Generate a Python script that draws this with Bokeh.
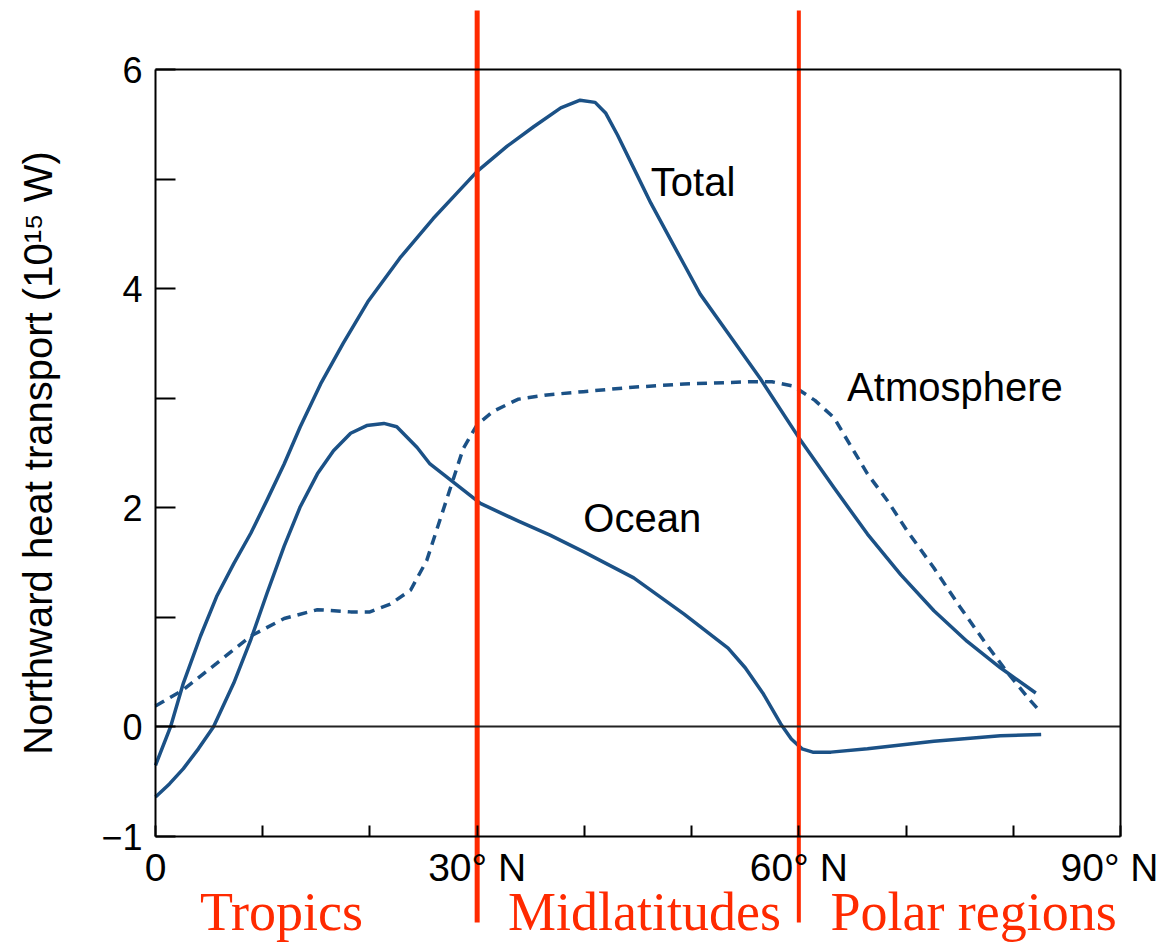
from bokeh.plotting import figure
from bokeh.models import Range1d, FixedTicker, Label, LinearAxis
from bokeh.embed import file_html
from bokeh.resources import INLINE

# ---- data (latitude in degrees N, northward transport in 10^15 W) ----
total_lat = [0, 1.4, 2.6, 4.2, 5.7, 7.3, 8.9, 10.4, 12.0, 13.5, 15.4, 17.5, 19.8, 22.8,
             25.9, 28.0, 30.0, 32.8, 35.3, 37.8, 39.6, 41.0, 42.0, 43.1, 44.6, 46.2,
             47.8, 49.3, 50.8, 53.5, 56.4, 60.0, 63.3, 66.4, 69.5, 72.6, 75.7, 78.8, 82.1]
total_val = [-0.35, 0.0, 0.40, 0.83, 1.19, 1.49, 1.77, 2.07, 2.40, 2.74, 3.13, 3.50, 3.88, 4.28,
             4.64, 4.86, 5.07, 5.30, 5.48, 5.65, 5.72, 5.70, 5.60, 5.40, 5.10, 4.78,
             4.49, 4.22, 3.95, 3.58, 3.18, 2.64, 2.18, 1.76, 1.39, 1.06, 0.78, 0.54, 0.31]

ocean_lat = [0, 1.3, 2.6, 4.0, 5.4, 7.3, 8.9, 10.4, 12.0, 13.5, 15.1, 16.6, 18.2, 19.7,
             21.3, 22.5, 24.4, 25.6, 28.1, 30.3, 33.8, 36.8, 39.9, 44.6, 49.3, 53.4,
             55.0, 56.7, 58.3, 59.3, 60.3, 61.3, 63.0, 66.4, 72.6, 78.8, 82.6]
ocean_val = [-0.64, -0.52, -0.38, -0.20, 0.0, 0.40, 0.80, 1.22, 1.65, 2.01, 2.31, 2.52, 2.68, 2.75,
             2.77, 2.74, 2.55, 2.40, 2.21, 2.04, 1.88, 1.75, 1.60, 1.36, 1.03, 0.72,
             0.54, 0.30, 0.03, -0.11, -0.20, -0.23, -0.23, -0.20, -0.13, -0.08, -0.07]

atmos_lat = [0, 2.6, 5.7, 8.9, 12.0, 15.1, 18.2, 20.0, 21.9, 23.8, 25.3, 26.6, 27.8, 28.7,
             30.0, 31.5, 33.8, 36.5, 39.9, 44.5, 49.3, 55.5, 57.5, 59.5, 61.5, 63.3,
             64.2, 66.4, 68.3, 70.1, 72.6, 75.0, 77.3, 79.5, 81.6, 82.6]
atmos_val = [0.19, 0.34, 0.58, 0.83, 0.99, 1.07, 1.05, 1.05, 1.12, 1.25, 1.52, 1.91, 2.27, 2.54,
             2.76, 2.88, 2.99, 3.03, 3.06, 3.10, 3.13, 3.15, 3.15, 3.11, 2.98, 2.82,
             2.67, 2.31, 2.06, 1.79, 1.45, 1.10, 0.78, 0.49, 0.24, 0.13]

x_ticks = [0, 10, 20, 30, 40, 50, 60, 70, 80, 90]
x_tick_labels = {0: "0", 30: "30° N", 60: "60° N", 90: "90° N"}
y_ticks = [-1, 0, 1, 2, 3, 4, 5, 6]
y_tick_labels = {-1: "−1", 0: "0", 2: "2", 4: "4", 6: "6"}
x_lim = (0, 90)
y_lim = (-1, 6)

region_bounds = [30, 60]
region_line_widths = [5, 4]
region_names = ["Tropics", "Midlatitudes", "Polar regions"]
region_centers = [11.75, 45.6, 76.3]

curve_names = ["Total", "Atmosphere", "Ocean"]
curve_label_x = [46.2, 64.5, 39.9]
curve_label_y = [4.97, 3.10, 1.91]

BLUE = "#1b5186"
RED = "#ff2a00"

# ---- layout: the plotting frame covers the whole figure; the data box
# (0..90 x -1..6) is drawn with bounded axes placed at fixed locations ----
W, H = 1158, 946
BOX_L, BOX_R, BOX_T, BOX_B = 155, 1120, 69, 836
ppd = (BOX_R - BOX_L) / (x_lim[1] - x_lim[0])
ppu = (BOX_B - BOX_T) / (y_lim[1] - y_lim[0])
view_x = (x_lim[0] - BOX_L / ppd, x_lim[1] + (W - BOX_R) / ppd)
view_y = (y_lim[0] - (H - BOX_B) / ppu, y_lim[1] + BOX_T / ppu)
sep_top = y_lim[1] + (BOX_T - 10) / ppu
sep_bottom = y_lim[0] - (922 - BOX_B) / ppu
name_baseline = y_lim[0] - (911 - BOX_B) / ppu

p = figure(width=W, height=H, x_range=Range1d(*view_x), y_range=Range1d(*view_y),
           output_backend="svg", toolbar_location=None,
           min_border_left=0, min_border_right=0, min_border_top=0, min_border_bottom=0)
p.background_fill_color = "white"
p.border_fill_color = "white"
p.xgrid.visible = False
p.ygrid.visible = False
p.outline_line_color = None

# main axes
p.xaxis.fixed_location = y_lim[0]
p.xaxis.bounds = x_lim
p.xaxis.ticker = FixedTicker(ticks=x_ticks)
p.xaxis.major_label_overrides = {t: x_tick_labels.get(t, "") for t in x_ticks}
p.yaxis.fixed_location = x_lim[0]
p.yaxis.bounds = y_lim
p.yaxis.ticker = FixedTicker(ticks=y_ticks)
p.yaxis.major_label_overrides = {t: y_tick_labels.get(t, "") for t in y_ticks}
for ax in (p.xaxis, p.yaxis):
    ax.axis_line_color = "black"
    ax.axis_line_width = 2
    ax.major_tick_line_color = "black"
    ax.major_tick_line_width = 2
    ax.major_tick_out = 0
    ax.minor_tick_line_color = None
    ax.major_label_text_font = "Liberation Sans"
    ax.major_label_text_color = "black"
p.xaxis.major_tick_in = 11
p.yaxis.major_tick_in = 20
p.xaxis.major_label_text_font_size = "39px"
p.yaxis.major_label_text_font_size = "36px"
p.xaxis.major_label_standoff = 9
p.yaxis.major_label_standoff = 13
p.yaxis.axis_label = "Northward heat transport (10¹⁵ W)"
p.yaxis.axis_label_text_font = "Liberation Sans"
p.yaxis.axis_label_text_font_size = "40px"
p.yaxis.axis_label_text_font_style = "normal"
p.yaxis.axis_label_text_color = "black"
p.yaxis.axis_label_standoff = 38


def spine(loc, bounds, side, color="black", width=2):
    ax = LinearAxis(fixed_location=loc, bounds=bounds, ticker=FixedTicker(ticks=[]),
                    axis_line_color=color, axis_line_width=width,
                    major_tick_line_color=None, minor_tick_line_color=None,
                    major_label_text_font_size="0px")
    p.add_layout(ax, side)


spine(y_lim[1], x_lim, "above")          # top edge of the box
spine(x_lim[1], y_lim, "right")          # right edge of the box
spine(0, x_lim, "below", "#222222", 1.8)  # zero line

# curves
p.line(total_lat, total_val, line_color=BLUE, line_width=3.5, line_join="round")
p.line(ocean_lat, ocean_val, line_color=BLUE, line_width=3.5, line_join="round")
p.line(atmos_lat, atmos_val, line_color=BLUE, line_width=3.5, line_dash="10 7")

# curve labels
for name, lx, ly in zip(curve_names, curve_label_x, curve_label_y):
    p.add_layout(Label(x=lx, y=ly, text=name, text_font="Liberation Sans",
                       text_font_size="40px", text_color="black",
                       text_align="left", text_baseline="alphabetic"))

# region separators
p.segment(x0=region_bounds, y0=[sep_bottom] * len(region_bounds),
          x1=region_bounds, y1=[sep_top] * len(region_bounds),
          line_color=RED, line_width=region_line_widths)

# region names
for name, cx in zip(region_names, region_centers):
    p.add_layout(Label(x=cx, y=name_baseline, text=name, text_font="Liberation Serif",
                       text_font_size="54px", text_color=RED,
                       text_align="center", text_baseline="alphabetic"))

open("out.html", "w").write(file_html(p, INLINE))
